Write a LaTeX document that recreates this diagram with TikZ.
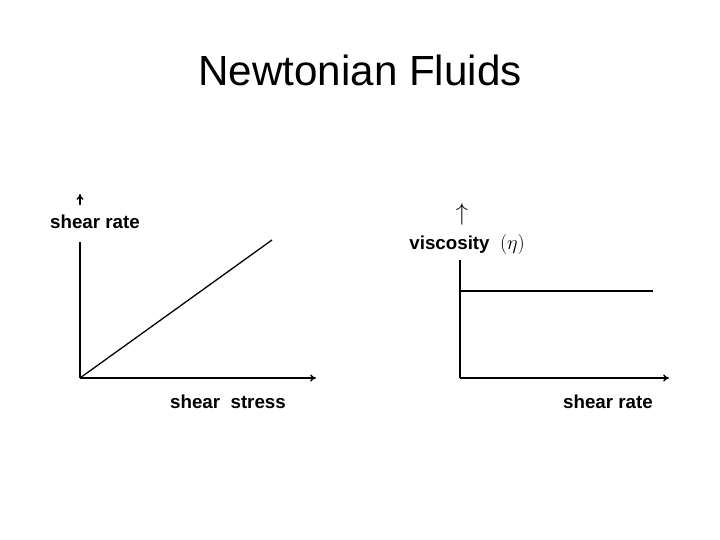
\documentclass[tikz,border=0pt]{standalone}
\usepackage{fontspec}
\setmainfont{Liberation Sans}
\usetikzlibrary{arrows.meta}
\tikzset{
  axislabel/.style={font=\fontsize{16}{18}\selectfont\bfseries, inner sep=1pt},
  axis/.style={line width=1.1pt, -{To[length=5pt,width=6pt]}},
  curve/.style={line width=1.1pt}
}
\begin{document}
\begin{tikzpicture}[x=0.03cm, y=-0.03cm]
  \useasboundingbox (0,0) rectangle (720,540);
  \node (title) at (360,70) {\fontsize{36}{40}\selectfont Newtonian Fluids};
  % left plot
  \coordinate (lo) at (80,378);
  \coordinate (lx) at (316,378);
  \coordinate (ltop) at (272,240);
  \node[axislabel] (lylab) at (95,222) {shear rate};
  \node[axislabel] (lxlab) at (228,402) {shear\ \ stress};
  \coordinate (lyarr) at (80,194);
  \draw[curve] (lo) -- (80,242);
  \draw[axis] (80,205) -- (lyarr);
  \draw[axis] (lo) -- (lx);
  \draw[curve] (lo) -- (ltop);
  % right plot
  \coordinate (ro) at (460,378);
  \coordinate (rx) at (669,378);
  \coordinate (rv0) at (460,291);
  \coordinate (rv1) at (653,291);
  \node[font=\fontsize{20}{22}\selectfont] (rarr) at (462,214) {$\uparrow$};
  \node[axislabel, anchor=west] (rylab) at (408,244) {viscosity \ \mdseries$(\eta)$};
  \node[axislabel] (rxlab) at (608,402) {shear rate};
  \draw[curve] (ro) -- (460,260);
  \draw[axis] (ro) -- (rx);
  \draw[curve] (rv0) -- (rv1);
\end{tikzpicture}
\end{document}
